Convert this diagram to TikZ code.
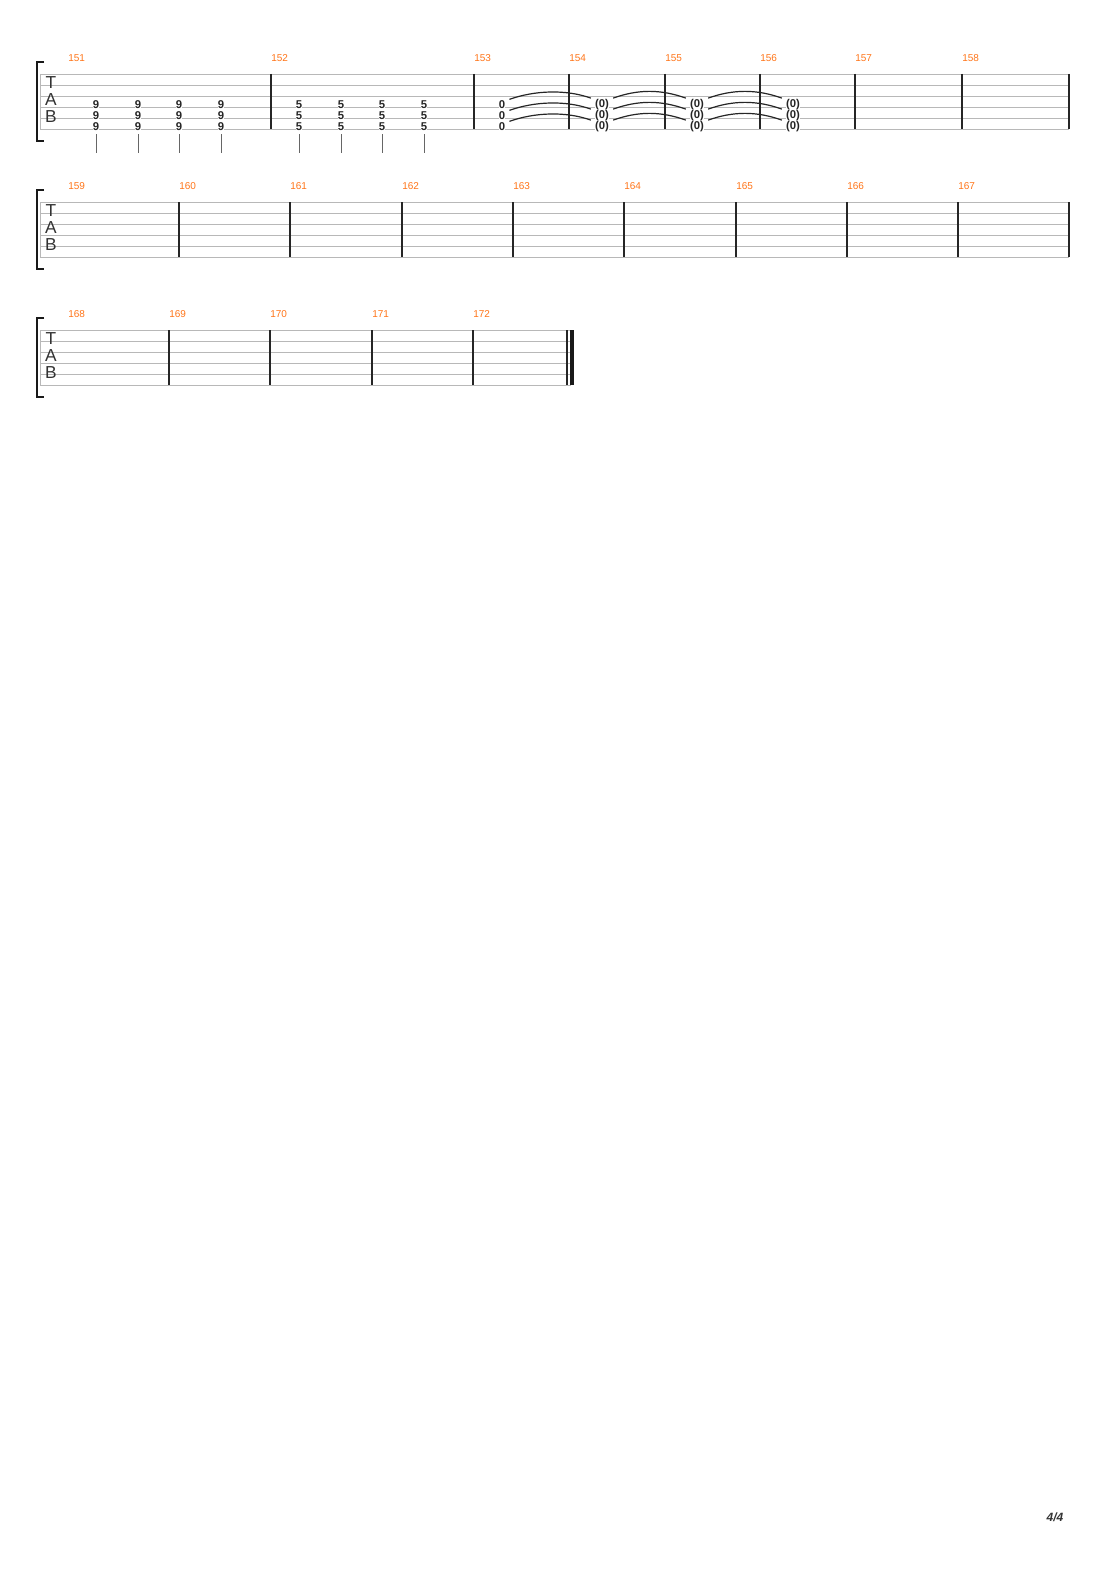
\documentclass[tikz,border=0pt]{standalone}
\usepackage{fontspec}
\setmainfont{Liberation Sans}
\begin{document}
\begin{tikzpicture}[x=0.75pt,y=-0.75pt,
  staff/.style={draw=black!28,line width=0.6pt},
  bar/.style={draw=black!85,line width=0.8pt},
  mnum/.style={text=orange!80!red!90!white,font=\fontsize{7.5}{8}\selectfont,anchor=west,inner sep=0},
  fret/.style={font=\bfseries\fontsize{8.5}{9}\selectfont,inner sep=0,fill=white,text=black!85},
  tab/.style={font=\fontsize{13}{13}\selectfont,inner sep=0,text=black!80},
  stem/.style={draw=black!60,line width=0.6pt},
  tie/.style={draw=black!85,line width=0.9pt}]
\useasboundingbox (0,0) rectangle (1110,1570);
\fill[white] (0,0) rectangle (1110,1570);
% systems
\foreach \top/\sys in {74/1,202/2,330/3}{
  \pgfmathsetmacro{\xe}{\sys==3 ? 571 : 1069}
  \foreach \i in {0,...,5}{\draw[staff] (40,\top+11*\i) -- (\xe,\top+11*\i);}
  \draw[staff] (40,\top) -- (40,\top+55);
  \draw[line width=2pt,black!90] (44,\top-12) -- (37,\top-12) -- (37,\top+67) -- (44,\top+67);
  \node[tab] (T\sys) at (51,\top+9) {T};
  \node[tab] (A\sys) at (51,\top+26) {A};
  \node[tab] (B\sys) at (51,\top+43) {B};
}
% barlines
\foreach \x in {271,474,569,665,760,855,962,1069}{\draw[bar] (\x,74) -- (\x,129);}
\foreach \x in {179,290,402,513,624,736,847,958,1069}{\draw[bar] (\x,202) -- (\x,257);}
\foreach \x in {169,270,372,473,567}{\draw[bar] (\x,330) -- (\x,385);}
\draw[line width=3pt,black!90] (571.5,330) -- (571.5,385);
% measure numbers
\foreach \n/\x in {151/68,152/271,153/474,154/569,155/665,156/760,157/855,158/962}{\node[mnum] (m\n) at (\x,58) {\n};}
\foreach \n/\x in {159/68,160/179,161/290,162/402,163/513,164/624,165/736,166/847,167/958}{\node[mnum] (m\n) at (\x,186) {\n};}
\foreach \n/\x in {168/68,169/169,170/270,171/372,172/473}{\node[mnum] (m\n) at (\x,314) {\n};}
% chords
\foreach \x/\f [count=\k] in {96/9,138/9,179/9,221/9,299/5,341/5,382/5,424/5}{
  \foreach \s/\y in {a/105,b/116,c/127}{\node[fret] (c\k\s) at (\x,\y) {\f};}
  \draw[stem] (\x,134) -- (\x,153);
}
% tied notes
\foreach \s/\y in {a/105,b/116,c/127}{
  \node[fret] (n1\s) at (502,\y) {0};
  \node[fret] (n2\s) at (602,\y) {(0)};
  \node[fret] (n3\s) at (697,\y) {(0)};
  \node[fret] (n4\s) at (793,\y) {(0)};
  \draw[tie] ([xshift=3pt,yshift=1pt]n1\s.north east) .. controls +(25,-9) and +(-25,-9) .. ([xshift=-3pt,yshift=1pt]n2\s.north west);
  \draw[tie] ([xshift=3pt,yshift=1pt]n2\s.north east) .. controls +(25,-9) and +(-25,-9) .. ([xshift=-3pt,yshift=1pt]n3\s.north west);
  \draw[tie] ([xshift=3pt,yshift=1pt]n3\s.north east) .. controls +(25,-9) and +(-25,-9) .. ([xshift=-3pt,yshift=1pt]n4\s.north west);
}
\node[font=\bfseries\itshape\fontsize{9}{9}\selectfont,inner sep=0,text=black!80] (pg) at (1055,1517) {4/4};
\end{tikzpicture}
\end{document}
